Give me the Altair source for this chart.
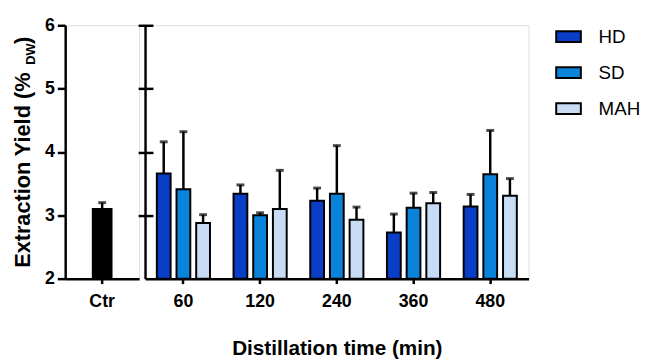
import altair as alt
import pandas as pd

# ---- data ----
times = ["60", "120", "240", "360", "480"]
methods = ["HD", "SD", "MAH"]
hd_mean = [3.66, 3.34, 3.23, 2.73, 3.14]
hd_top = [4.16, 3.48, 3.43, 3.02, 3.33]
sd_mean = [3.41, 3.00, 3.34, 3.12, 3.65]
sd_top = [4.32, 3.04, 4.10, 3.35, 4.34]
mah_mean = [2.88, 3.10, 2.93, 3.19, 3.31]
mah_top = [3.01, 3.71, 3.13, 3.36, 3.58]
ctr_label = ["Ctr"]
ctr_mean = [3.10]
ctr_top = [3.20]
y_ticks = [2, 3, 4, 5, 6]
colors = ["#0a3ec6", "#0a84da", "#c8dcf6"]

FONT = "Liberation Sans"

rows = []
for m, means, tops in zip(methods, [hd_mean, sd_mean, mah_mean], [hd_top, sd_top, mah_top]):
    for t, v, e in zip(times, means, tops):
        rows.append({"time": t, "method": m, "mean": v, "top": e})
df = pd.DataFrame(rows)
ctr_df = pd.DataFrame({"group": ctr_label, "mean": ctr_mean, "top": ctr_top})

y_scale = alt.Scale(domain=[2, 6], nice=False, zero=False)

# ---------------- left panel (Ctr) ----------------
xl = alt.X("group:N", title=None,
           scale=alt.Scale(paddingInner=0, paddingOuter=0),
           axis=alt.Axis(labelAngle=0, labelFont=FONT, labelFontSize=18, labelFontWeight="bold",
                         labelColor="black", tickSize=5, tickWidth=2.5, tickColor="black",
                         domainColor="black", domainWidth=2.5, labelPadding=9))
yl_axis = alt.Axis(values=y_ticks, format="d", title=None, labelFont=FONT, labelFontSize=18,
                   labelFontWeight="bold", labelColor="black", tickSize=8, tickWidth=2.5,
                   tickColor="black", domainColor="black", domainWidth=2.5, labelPadding=3,
                   grid=False)

base_l = alt.Chart(ctr_df)
bar_l = base_l.mark_bar(color="black", size=19, stroke="black", strokeWidth=2).encode(
    x=xl, y=alt.Y("mean:Q", scale=y_scale, axis=yl_axis), y2=alt.datum(2))
rule_l = base_l.mark_rule(color="black", strokeWidth=2.5).encode(
    x=xl, y=alt.Y("mean:Q", scale=y_scale), y2="top:Q")
cap_l = base_l.mark_tick(color="black", size=8, thickness=3, orient="horizontal").encode(
    x=xl, y=alt.Y("top:Q", scale=y_scale))

def title_piece(txt, x, y, size, weight="bold"):
    return alt.Chart(pd.DataFrame({"t": [txt]})).mark_text(
        angle=270, align="left", baseline="middle", font=FONT, fontSize=size,
        fontWeight=weight, color="black").encode(
        x=alt.value(x), y=alt.value(y), text="t:N")

t1 = title_piece("Extraction Yield  (%", -43, 246, 22)
t2 = title_piece("DW", -35, 40, 13)
t3 = title_piece(")", -43, 19, 22)

left = alt.layer(bar_l, rule_l, cap_l, t1, t2, t3).properties(width=75, height=257)

# ---------------- right panel ----------------
xr = alt.X("time:N", title="Distillation time (min)", sort=times,
           scale=alt.Scale(paddingInner=0.23, paddingOuter=0.115),
           axis=alt.Axis(labelAngle=0, labelFont=FONT, labelFontSize=18, labelFontWeight="bold",
                         labelColor="black", tickSize=5, tickWidth=2.5, tickColor="black",
                         domainColor="black", domainWidth=2.5, labelPadding=9,
                         titleFont=FONT, titleFontSize=21, titleFontWeight="bold",
                         titleColor="black", titlePadding=28))
xo = alt.XOffset("method:N", sort=methods,
                 scale=alt.Scale(paddingInner=0.3, paddingOuter=0.15))
color = alt.Color("method:N", sort=methods,
                  scale=alt.Scale(domain=methods, range=colors),
                  legend=alt.Legend(title=None, orient="none", legendX=497, legendY=-2,
                                    symbolType="M-1,-0.44L1,-0.44L1,0.44L-1,0.44Z",
                                    symbolSize=625, symbolStrokeColor="black",
                                    symbolStrokeWidth=2, symbolOpacity=1,
                                    labelFont=FONT, labelFontSize=19, labelColor="black",
                                    labelOffset=17, rowPadding=12.5, padding=0))

axis_dom = alt.Axis(values=y_ticks, title=None, labels=False, ticks=False, grid=False,
                    domainColor="black", domainWidth=2.5, orient="left")
axis_ticks = alt.Axis(values=[3, 4, 5, 6], title=None, labels=False, domain=False, grid=False,
                      ticks=True, tickSize=15, tickWidth=2.5, tickColor="black",
                      offset=-8, orient="left")

base_r = alt.Chart(df)
bar_r = base_r.mark_bar(stroke="black", strokeWidth=2).encode(
    x=xr, xOffset=xo, y=alt.Y("mean:Q", scale=y_scale, axis=axis_dom), y2=alt.datum(2),
    color=color)
rule_r = base_r.mark_rule(color="black", strokeWidth=2.5).encode(
    x=xr, xOffset=xo, y=alt.Y("mean:Q", scale=y_scale, axis=axis_ticks), y2="top:Q")
cap_r = base_r.mark_tick(color="black", size=8, thickness=3, orient="horizontal").encode(
    x=xr, xOffset=xo, y=alt.Y("top:Q", scale=y_scale, axis=None))

right = alt.layer(bar_r, rule_r, cap_r).resolve_axis(y="independent").resolve_scale(
    y="shared").properties(width=389, height=257)

chart = alt.hconcat(left, right, spacing=6, bounds="flush").properties(
    padding={"left": 3, "top": 5, "right": 0, "bottom": 0}
).configure_view(strokeWidth=0).configure(font=FONT)

chart.save("out.html", embed_options={"renderer": "svg", "actions": False})
